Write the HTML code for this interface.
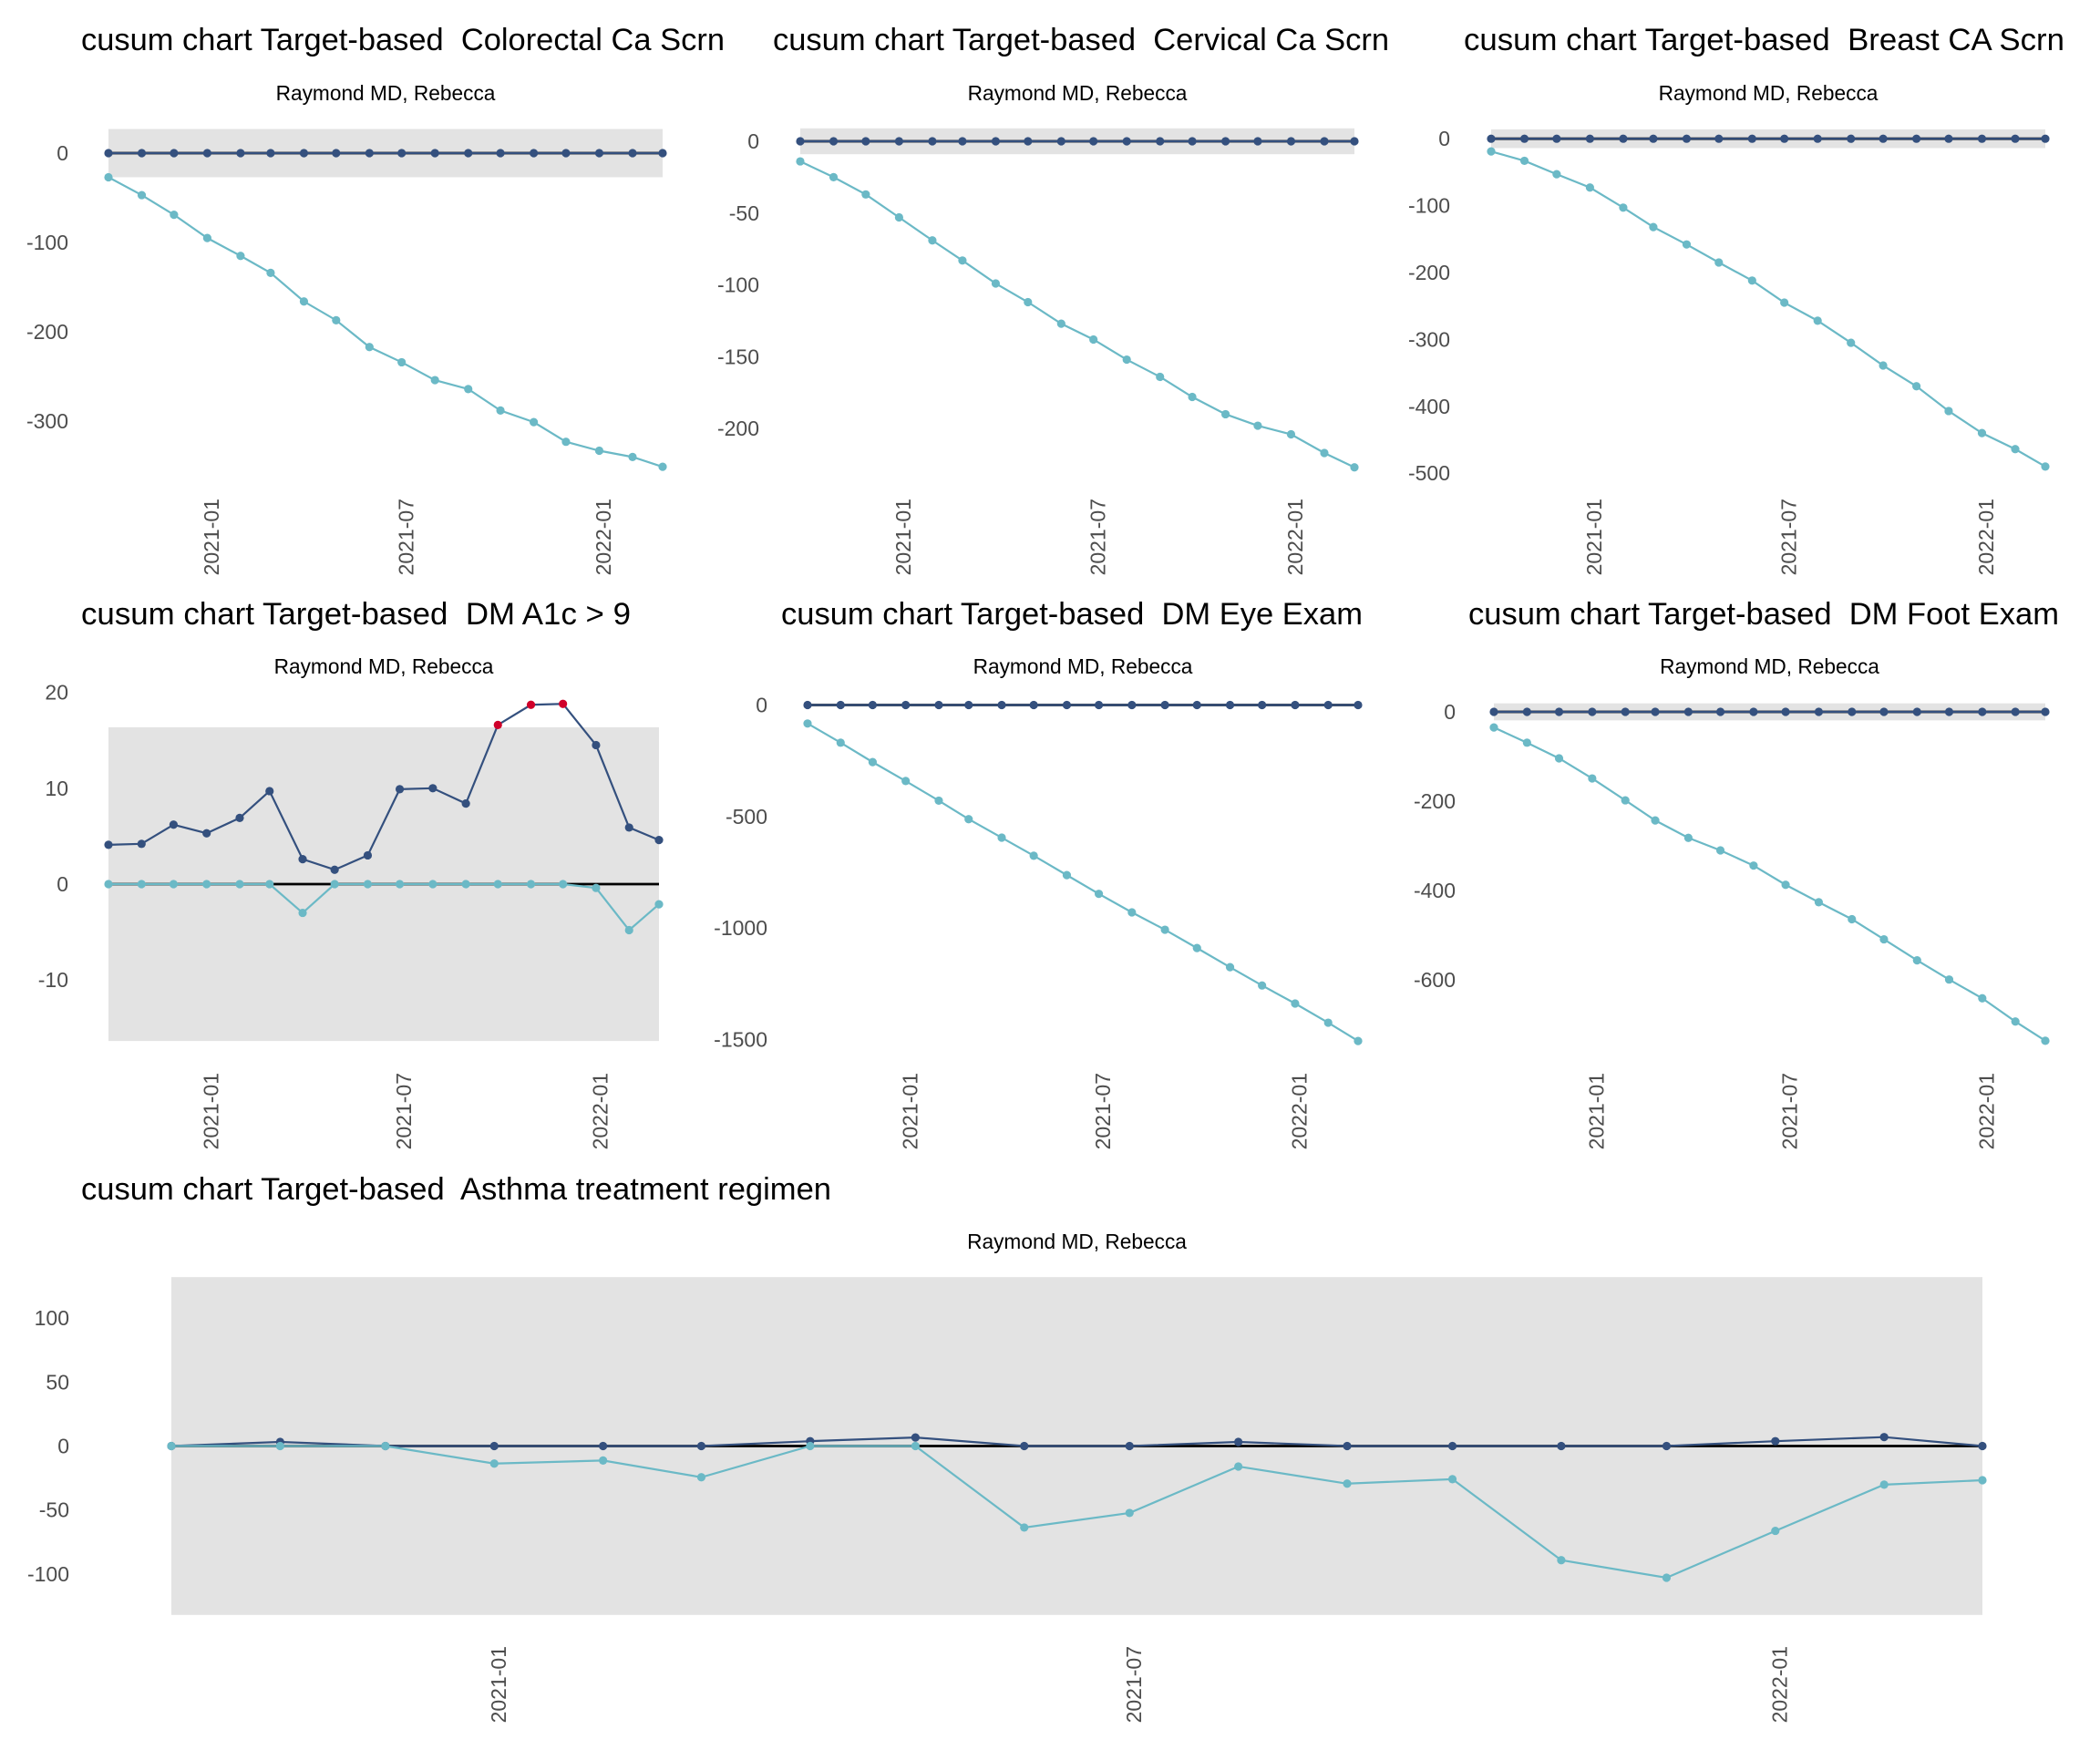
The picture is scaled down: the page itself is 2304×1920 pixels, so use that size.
<!DOCTYPE html>
<html><head><meta charset="utf-8"><style>
html,body{margin:0;padding:0;background:#fff;}
svg{display:block;font-family:"Liberation Sans",Arial,sans-serif;}
text{white-space:pre;}
</style></head><body>
<svg id="chart" width="2304" height="1920" viewBox="0 0 2304 1920" xmlns="http://www.w3.org/2000/svg" xml:space="preserve"></svg>
<script>
// ---- shared data ----
const months = ["2020-10-01","2020-11-01","2020-12-01","2021-01-01","2021-02-01","2021-03-01","2021-04-01","2021-05-01","2021-06-01","2021-07-01","2021-08-01","2021-09-01","2021-10-01","2021-11-01","2021-12-01","2022-01-01","2022-02-01","2022-03-01"];
const xTickLabels = ["2021-01","2021-07","2022-01"];
const subtitleText = "Raymond MD, Rebecca";

// ---- Colorectal ----
const colorectalUpper = [0,0,0,0,0,0,0,0,0,0,0,0,0,0,0,0,0,0];
const colorectalLower = [-27,-47,-69,-95,-115,-134,-166,-187,-217,-234,-254,-264,-288,-301,-323,-333,-340,-351];
const colorectalTicks = [0,-100,-200,-300];
const colorectalH = [27];
// ---- Cervical ----
const cervicalUpper = [0,0,0,0,0,0,0,0,0,0,0,0,0,0,0,0,0,0];
const cervicalLower = [-14,-25,-37,-53,-69,-83,-99,-112,-127,-138,-152,-164,-178,-190,-198,-204,-217,-227];
const cervicalTicks = [0,-50,-100,-150,-200];
const cervicalH = [9];
// ---- Breast ----
const breastUpper = [0,0,0,0,0,0,0,0,0,0,0,0,0,0,0,0,0,0];
const breastLower = [-19,-33,-53,-73,-103,-132,-158,-185,-212,-245,-272,-305,-339,-370,-407,-440,-464,-490];
const breastTicks = [0,-100,-200,-300,-400,-500];
const breastH = [14];
// ---- DM A1c ----
const a1cUpper = [4.1,4.2,6.2,5.3,6.9,9.7,2.6,1.5,3.0,9.9,10.0,8.4,16.6,18.7,18.8,14.5,5.9,4.6];
const a1cLower = [0,0,0,0,0,0,-3.0,0,0,0,0,0,0,0,0,-0.4,-4.8,-2.1];
const a1cTicks = [20,10,0,-10];
const a1cH = [16.36];
// ---- DM Eye ----
const eyeUpper = [0,0,0,0,0,0,0,0,0,0,0,0,0,0,0,0,0,0];
const eyeLower = [-83,-169,-256,-341,-429,-512,-595,-676,-763,-847,-930,-1008,-1090,-1176,-1258,-1339,-1425,-1507];
const eyeTicks = [0,-500,-1000,-1500];
const eyeH = [0];
// ---- DM Foot ----
const footUpper = [0,0,0,0,0,0,0,0,0,0,0,0,0,0,0,0,0,0];
const footLower = [-35,-69,-104,-149,-198,-243,-282,-310,-344,-387,-426,-464,-509,-556,-599,-641,-693,-736];
const footTicks = [0,-200,-400,-600];
const footH = [19];
// ---- Asthma ----
const asthmaUpper = [0,3.2,0,0,0,0,3.8,6.7,0,0,3.2,0,0,0,0,3.8,7.0,0];
const asthmaLower = [0,0,0,-13.7,-11.3,-24.4,0,0,-63.7,-52.3,-16,-29.4,-25.9,-89.2,-102.9,-66.3,-30.2,-26.7];
const asthmaTicks = [100,50,0,-50,-100];
const asthmaH = [132];
</script>
<script>
const NS="http://www.w3.org/2000/svg";
const svg=document.getElementById('chart');
const NAVY="#34507e", TEAL="#6bb9c6", RED="#d0002a";
function mk(tag,attrs,parent){const e=document.createElementNS(NS,tag);for(const k in attrs)e.setAttribute(k,attrs[k]);(parent||svg).appendChild(e);return e;}
const t0=Date.parse(months[0]), t1=Date.parse(months[months.length-1]);

function panel(p){
  const g=mk('g',{});
  
  
  const xs=d=>p.x0+(Date.parse(d)-t0)/(t1-t0)*(p.x1-p.x0);
  const ys=v=>p.zeroY-v*p.k;
  const ti=mk('text',{x:p.tx,y:p.ty,'font-size':34,fill:'#000',textLength:p.tw,lengthAdjust:'spacingAndGlyphs'},g);
  ti.textContent=p.title;
  
  
  const st=mk('text',{x:(p.x0+p.x1)/2,y:p.sy,'font-size':22.7,'text-anchor':'middle',fill:'#000'},g);
  st.textContent=subtitleText;
  
  
  const h=p.h[0];
  const band=mk('rect',{x:p.x0,y:ys(h),width:p.x1-p.x0,height:Math.max(0,ys(-h)-ys(h)),fill:'#e3e3e3'},g);
  
  
  p.ticks.forEach(v=>{
    const t=mk('text',{x:p.tickX,y:ys(v),'font-size':23,'text-anchor':'end','dominant-baseline':'central',fill:'#4d4d4d'},g);
    t.textContent=String(v);
    
    
  });
  xTickLabels.forEach(s=>{
    const x=xs(s+"-01");
    const t=mk('text',{transform:`translate(${x},${p.labelTop}) rotate(-90)`,'font-size':23,'text-anchor':'end',dy:'0.55em',fill:'#4d4d4d'},g);
    t.textContent=s;
    
    
  });
  const zl=mk('line',{x1:p.x0,x2:p.x1,y1:ys(0),y2:ys(0),stroke:'#000','stroke-width':2.8},g);
  
  
  [[p.upper,NAVY,'upper'],[p.lower,TEAL,'lower']].forEach(([vals,col,nm])=>{
    const pts=vals.map((v,i)=>xs(months[i])+','+ys(v)).join(' ');
    const pl=mk('polyline',{points:pts,fill:'none',stroke:col,'stroke-width':2.2},g);
    
    
    vals.forEach((v,i)=>{
      const c=mk('circle',{cx:xs(months[i]),cy:ys(v),r:4.6,fill:(nm==='upper'&&h>0&&v>h)?RED:col},g);
      
      
    });
  });
}

panel({name:'colorectal',title:'cusum chart Target-based  Colorectal Ca Scrn',tx:89,ty:55,tw:706,sy:110,x0:119,x1:727,zeroY:168,k:0.9805,tickX:75,labelTop:547,upper:colorectalUpper,lower:colorectalLower,ticks:colorectalTicks,h:colorectalH});
panel({name:'cervical',title:'cusum chart Target-based  Cervical Ca Scrn',tx:848,ty:55,tw:676,sy:110,x0:878,x1:1486,zeroY:155,k:1.576,tickX:833,labelTop:547,upper:cervicalUpper,lower:cervicalLower,ticks:cervicalTicks,h:cervicalH});
panel({name:'breast',title:'cusum chart Target-based  Breast CA Scrn',tx:1606,ty:55,tw:659,sy:110,x0:1636,x1:2244,zeroY:152.2,k:0.734,tickX:1591,labelTop:547,upper:breastUpper,lower:breastLower,ticks:breastTicks,h:breastH});
panel({name:'dm-a1c',title:'cusum chart Target-based  DM A1c > 9',tx:89,ty:685,tw:603,sy:739,x0:119,x1:723,zeroY:970,k:10.52,tickX:75,labelTop:1177,upper:a1cUpper,lower:a1cLower,ticks:a1cTicks,h:a1cH});
panel({name:'dm-eye',title:'cusum chart Target-based  DM Eye Exam',tx:857,ty:685,tw:638,sy:739,x0:886,x1:1490,zeroY:773.5,k:0.2446,tickX:842,labelTop:1177,upper:eyeUpper,lower:eyeLower,ticks:eyeTicks,h:eyeH});
panel({name:'dm-foot',title:'cusum chart Target-based  DM Foot Exam',tx:1611,ty:685,tw:648,sy:739,x0:1639,x1:2244,zeroY:781,k:0.4903,tickX:1597,labelTop:1177,upper:footUpper,lower:footLower,ticks:footTicks,h:footH});
panel({name:'asthma',title:'cusum chart Target-based  Asthma treatment regimen',tx:89,ty:1316,tw:823,sy:1370,x0:188,x1:2175,zeroY:1586.5,k:1.404,tickX:76,labelTop:1806,upper:asthmaUpper,lower:asthmaLower,ticks:asthmaTicks,h:asthmaH});
</script>
</body></html>
